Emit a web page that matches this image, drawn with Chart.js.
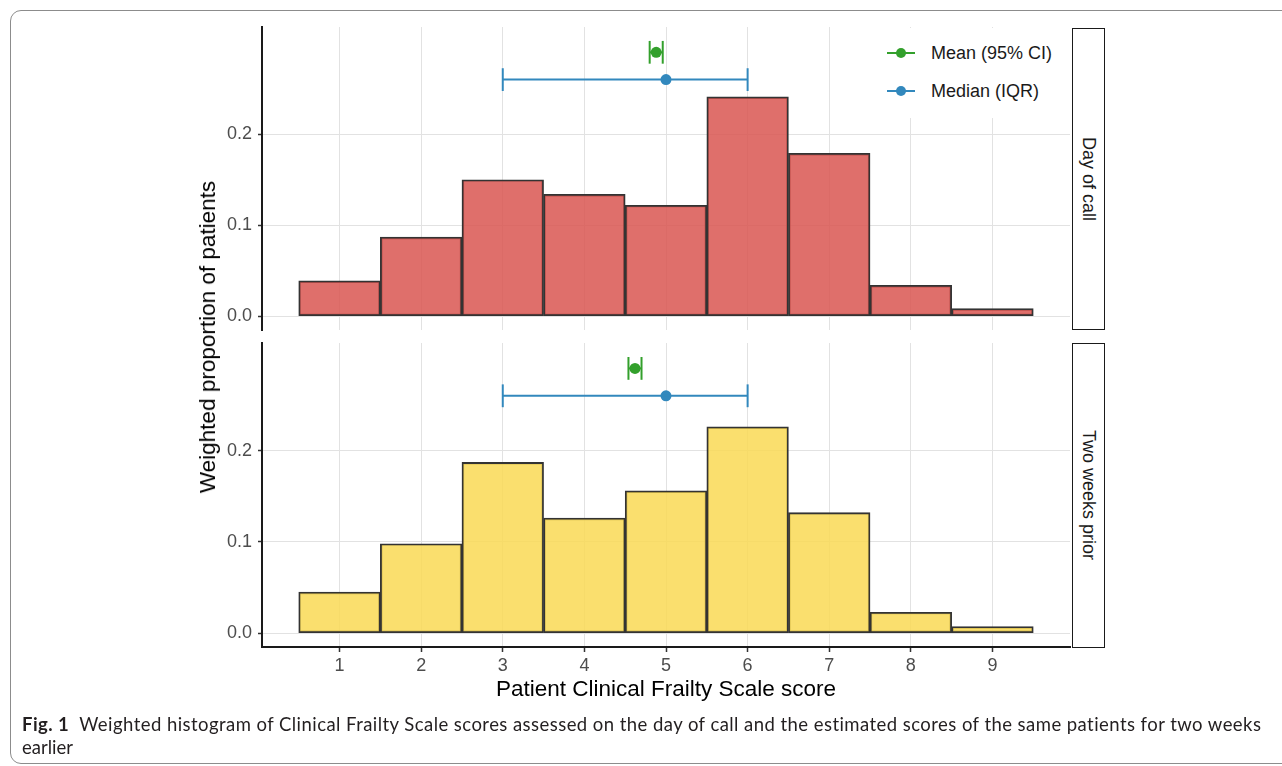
<!DOCTYPE html>
<html><head><meta charset="utf-8">
<script src="https://cdn.jsdelivr.net/npm/chart.js@4.4.1/dist/chart.umd.min.js"></script>
<style>
html,body{margin:0;padding:0;background:#fff;width:1282px;height:766px;overflow:hidden;position:relative;font-family:"Liberation Sans",Arial,sans-serif;}
#frame{position:absolute;left:10px;top:10px;width:1300px;height:754px;border:1px solid #8c8c8c;border-radius:11px;box-sizing:border-box;}
.cv{position:absolute;left:0;top:0;}
#legend{position:absolute;left:858px;top:28px;width:210px;height:90px;background:#fff;}
.li{position:absolute;left:0;width:210px;height:24px;}
.li .ln{position:absolute;left:29px;top:11px;width:28px;height:2px;}
.li .dt{position:absolute;left:38px;top:7px;width:10px;height:10px;border-radius:50%;}
.li .tx{position:absolute;left:73px;top:0;line-height:24px;font-size:18px;color:#1a1a1a;white-space:nowrap;}
.strip{position:absolute;left:1072px;width:33px;box-sizing:border-box;border:1.6px solid #1a1a1a;background:#fff;display:flex;align-items:center;justify-content:center;}
.strip span{writing-mode:vertical-rl;font-size:18px;color:#1a1a1a;white-space:nowrap;}
#ytitle{position:absolute;left:208px;top:337px;transform:translate(-50%,-50%) rotate(-90deg);font-size:22.5px;color:#000;white-space:nowrap;}
#xtitle{position:absolute;left:666px;top:689px;transform:translate(-50%,-50%);font-size:22.5px;color:#000;white-space:nowrap;}
.cap{position:absolute;left:22px;font-family:Lato,"Open Sans",sans-serif;font-size:18.5px;color:#231f20;white-space:nowrap;line-height:22px;}
.cap b{font-weight:700;}
</style></head><body>
<div id="frame"></div>
<canvas id="c1" class="cv" width="1282" height="766"></canvas>
<canvas id="c2" class="cv" width="1282" height="766"></canvas>
<div id="legend">
  <div class="li" style="top:13px"><div class="ln" style="background:#33a02c"></div><div class="dt" style="background:#33a02c"></div><div class="tx">Mean (95% CI)</div></div>
  <div class="li" style="top:51px"><div class="ln" style="background:#3288bd"></div><div class="dt" style="background:#3288bd"></div><div class="tx">Median (IQR)</div></div>
</div>
<div class="strip" style="top:28px;height:302px"><span>Day of call</span></div>
<div class="strip" style="top:343px;height:305px"><span>Two weeks prior</span></div>
<div id="ytitle">Weighted proportion of patients</div>
<div id="xtitle">Patient Clinical Frailty Scale score</div>
<div class="cap" id="cap1" style="top:713px"><b>Fig. 1</b>&nbsp;&nbsp;Weighted histogram of Clinical Frailty Scale scores assessed on the day of call and the estimated scores of the same patients for two weeks</div>
<div class="cap" id="cap2" style="top:736px">earlier</div>
<script>
// ---- data ----
const scores = [1, 2, 3, 4, 5, 6, 7, 8, 9];
const dayOfCall = [0.039, 0.087, 0.150, 0.134, 0.122, 0.241, 0.179, 0.034, 0.0085];
const twoWeeksPrior = [0.045, 0.098, 0.187, 0.126, 0.156, 0.226, 0.132, 0.023, 0.0072];
const yTicks = [0.0, 0.1, 0.2];
const xRange = [0.05, 9.95];
const yRange = [-0.0151, 0.3178];
// summary statistics (x) and their plotting rows (y)
const meanDay = 4.88, ciDay = [4.80, 4.96];
const medianDay = 5, iqrDay = [3, 6];
const meanPrior = 4.62, ciPrior = [4.54, 4.70];
const medianPrior = 5, iqrPrior = [3, 6];
const meanRowY = 0.29, medianRowY = 0.26, capHalf = 0.0125;

const GREEN = '#33a02c', BLUE = '#3288bd';
const FONT = '"Liberation Sans", Arial, sans-serif';

function errorBar(center, lo, hi, y, color) {
  const base = {type: 'line', borderColor: color, borderWidth: 2, pointRadius: 0, fill: false, order: 0, clip: false};
  return [
    Object.assign({}, base, {data: [{x: lo, y: y}, {x: hi, y: y}]}),
    Object.assign({}, base, {data: [{x: lo, y: y - capHalf}, {x: lo, y: y + capHalf}]}),
    Object.assign({}, base, {data: [{x: hi, y: y - capHalf}, {x: hi, y: y + capHalf}]}),
    {type: 'line', showLine: false, data: [{x: center, y: y}], pointRadius: 5.5, pointHoverRadius: 5.5,
     pointBackgroundColor: color, pointBorderWidth: 0, order: 0, clip: false}
  ];
}

function makePanel(id, values, fill, mean, ci, median, iqr, isBottom) {
  const datasets = [
    ...errorBar(mean, ci[0], ci[1], meanRowY, GREEN),
    ...errorBar(median, iqr[0], iqr[1], medianRowY, BLUE),
    {type: 'bar', data: scores.map((s, i) => ({x: s, y: values[i]})), backgroundColor: fill,
     borderColor: '#333333', borderWidth: 1.8, borderSkipped: false, barPercentage: 1, categoryPercentage: 1, order: 10}
  ];
  return new Chart(document.getElementById(id), {
    type: 'bar',
    data: {datasets},
    options: {
      responsive: false, animation: false,
      layout: {padding: {left: 0, right: 212, top: isBottom ? 343 : 27, bottom: isBottom ? 0 : 436}},
      plugins: {legend: {display: false}, tooltip: {enabled: false}},
      scales: {
        x: {
          type: 'linear', min: xRange[0], max: xRange[1], offset: false,
          afterBuildTicks: s => { s.ticks = scores.map(v => ({value: v})); },
          afterFit: s => { s.height = isBottom ? 119 : 0; },
          ticks: {display: isBottom, color: '#4d4d4d', font: {size: 18, family: FONT}, padding: 3,
                  maxRotation: 0, autoSkip: false, callback: v => String(v)},
          grid: {offset: false, color: '#e2e2e2', lineWidth: 1, drawTicks: isBottom, tickLength: 5, tickColor: '#333', tickWidth: 1.5},
          border: {display: isBottom, color: '#1a1a1a', width: 2}
        },
        y: {
          type: 'linear', min: yRange[0], max: yRange[1],
          afterBuildTicks: s => { s.ticks = yTicks.map(v => ({value: v})); },
          afterFit: s => { s.width = 262; },
          ticks: {color: '#4d4d4d', font: {size: 18, family: FONT}, padding: 6, callback: v => v.toFixed(1)},
          grid: {color: '#e2e2e2', lineWidth: 1, tickLength: 4, tickColor: '#333', tickWidth: 1.5},
          border: {color: '#1a1a1a', width: 2}
        }
      }
    }
  });
}

makePanel('c1', dayOfCall, 'rgba(217,83,79,0.84)', meanDay, ciDay, medianDay, iqrDay, false);
makePanel('c2', twoWeeksPrior, 'rgba(249,217,82,0.84)', meanPrior, ciPrior, medianPrior, iqrPrior, true);

// fit caption line to the printed width
(function(){
  const c = document.getElementById('cap1');
  const w = c.getBoundingClientRect().width;
  const target = 1240;
  const n = c.textContent.length;
  c.style.letterSpacing = ((target - w) / n).toFixed(3) + 'px';
})();
</script>
</body></html>
